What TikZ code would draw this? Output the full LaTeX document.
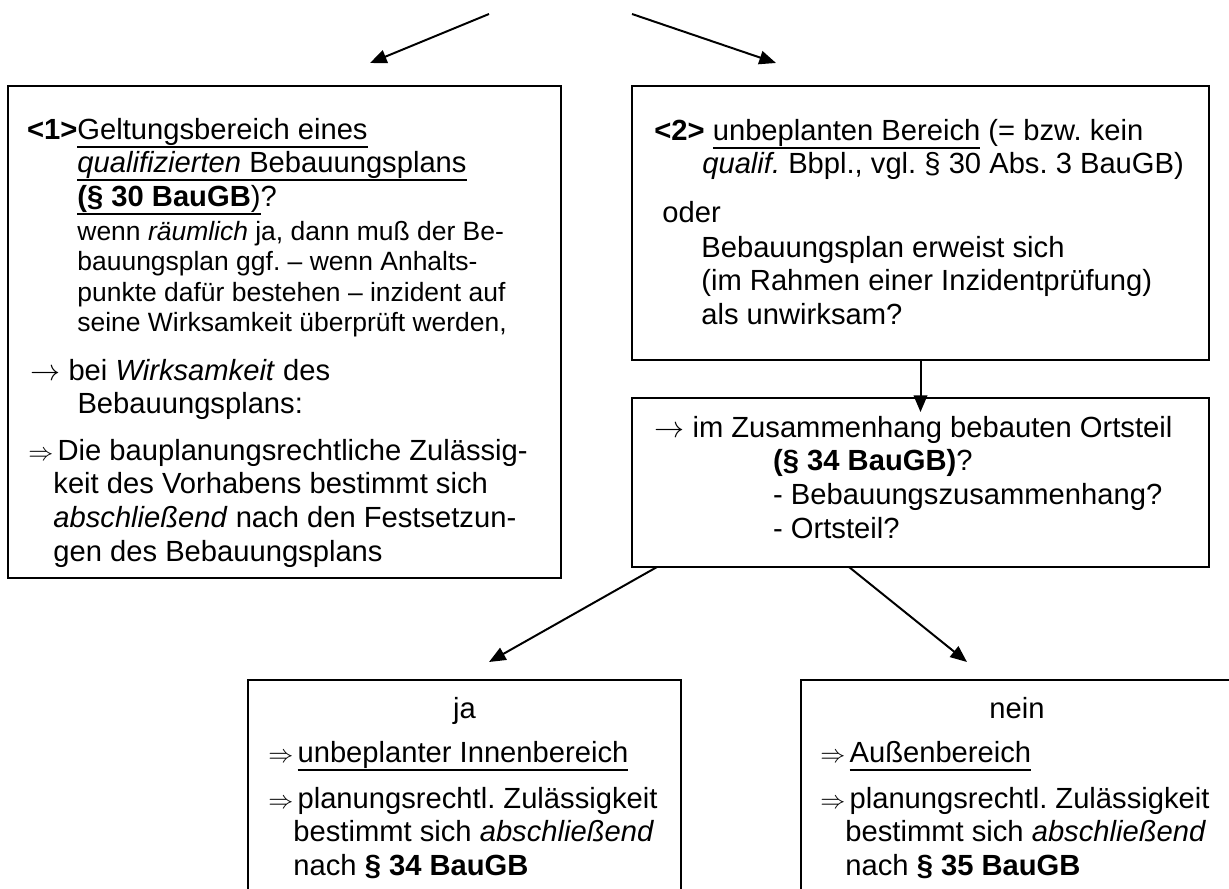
\documentclass[tikz,border=0pt]{standalone}
\usepackage{fontspec}
\setmainfont{Liberation Sans}
\usetikzlibrary{arrows.meta,fit}
\frenchspacing
\newsavebox{\ulbox}
\newcommand{\uln}[1]{\sbox{\ulbox}{#1}\rlap{\rule[-3.9pt]{\wd\ulbox}{0.9pt}}\usebox{\ulbox}}
\newcommand{\imp}{{\fontsize{12}{14}\selectfont$\Rightarrow$}}
\newcommand{\arr}{{\fontsize{13.5}{15}\selectfont$\rightarrow$}}

\begin{document}
\begin{tikzpicture}[x=0.48pt, y=-0.48pt,
        box/.style={draw, line width=0.9pt, inner sep=0pt},
        txt/.style={anchor=north west, inner sep=0pt, align=left, font=\fontsize{14}{16.1}\selectfont},
        smalltxt/.style={txt, font=\fontsize{12.7}{14.55}\selectfont},
        arr/.style={-{Triangle[length=8pt,width=6.5pt]}, line width=0.95pt}]
    \useasboundingbox (0,0) rectangle (1229,889);
    \clip (0,0) rectangle (1229,889);

    \node[box, fit={(8,86) (561,578)}] (geltung) {};
    \node[box, fit={(632,86) (1209,360)}] (unbeplant) {};
    \node[box, fit={(632,398) (1209,567)}] (ortsteil) {};
    \node[box, fit={(248,680) (681,960)}] (innen) {};
    \node[box, fit={(801,680) (1234,960)}] (aussen) {};

    \node[txt] (geltungtxt) at (77,115.5) {\strut\llap{\textbf{<1>}}\uln{Geltungsbereich eines}\\
        \uln{\textit{qualifizierten} Bebauungsplans}\\
        \uln{\textbf{(§ 30 BauGB})}?};
    \node[smalltxt] (pruefungtxt) at (77,218.8) {\strut wenn \textit{räumlich} ja, dann muß der Be-\\
        bauungsplan ggf. – wenn Anhalts-\\
        punkte dafür bestehen – inzident auf\\
        seine Wirksamkeit überprüft werden,};
    \node[txt] (wirksamtxt) at (30,356.5) {\strut\arr\ bei \textit{Wirksamkeit} des\\
        \hspace*{22.6pt}Bebauungsplans:};
    \node[txt] (folgetxt) at (53,436.5) {\strut\llap{\imp}\hspace*{2pt}Die bauplanungsrechtliche Zulässig-\\
        keit des Vorhabens bestimmt sich\\
        \textit{abschließend} nach den Festsetzun-\\
        gen des Bebauungsplans};

    \node[txt] (unbeplanttxt) at (654,116.5) {\strut\textbf{<2>} \uln{unbeplanten Bereich} (= bzw. kein\\
        \hspace*{23pt}\textit{qualif.} Bbpl., vgl. § 30 Abs. 3 BauGB)};
    \node[txt] (odertxt) at (662,198.5) {\strut oder\\[0.7pt]
        \hspace*{18.7pt}Bebauungsplan erweist sich\\
        \hspace*{18.7pt}(im Rahmen einer Inzidentprüfung)\\
        \hspace*{18.7pt}als unwirksam?};

    \node[txt] (ortsteiltxt) at (654,413.5) {\strut\arr\ im Zusammenhang bebauten Ortsteil\\
        \hspace*{57pt}\textbf{(§ 34 BauGB)}?\\
        \hspace*{57pt}- Bebauungszusammenhang?\\
        \hspace*{57pt}- Ortsteil?};

    \node[txt, anchor=base] (ja) at (464.5,718) {ja};
    \node[txt] (innentxt) at (293,738.5) {\strut\llap{\imp}\hspace*{2pt}\uln{unbeplanter Innenbereich}\\[6pt]
        \llap{\imp}\hspace*{2pt}planungsrechtl. Zulässigkeit\\
        bestimmt sich \textit{abschließend}\\
        nach \textbf{§ 34 BauGB}};
    \node[txt, anchor=base] (nein) at (1017,718) {nein};
    \node[txt] (aussentxt) at (845,738.5) {\strut\llap{\imp}\hspace*{2pt}\uln{Außenbereich}\\[6pt]
        \llap{\imp}\hspace*{2pt}planungsrechtl. Zulässigkeit\\
        bestimmt sich \textit{abschließend}\\
        nach \textbf{§ 35 BauGB}};

    \coordinate (oben1) at (489,14);
    \coordinate (oben2) at (632,14);
    \coordinate (zu1) at (370,63);
    \coordinate (zu2) at (776,63);
    \coordinate (ab1) at (657,567);
    \coordinate (ab2) at (849,567);
    \coordinate (zuja) at (489,662);
    \coordinate (zunein) at (967,662);
    \draw[arr] (oben1) -- (zu1);
    \draw[arr] (oben2) -- (zu2);
    \draw[arr] (unbeplant.south) -- ([yshift=-7.2pt]ortsteil.north);
    \draw[arr] (ab1) -- (zuja);
    \draw[arr] (ab2) -- (zunein);
\end{tikzpicture}
\end{document}
